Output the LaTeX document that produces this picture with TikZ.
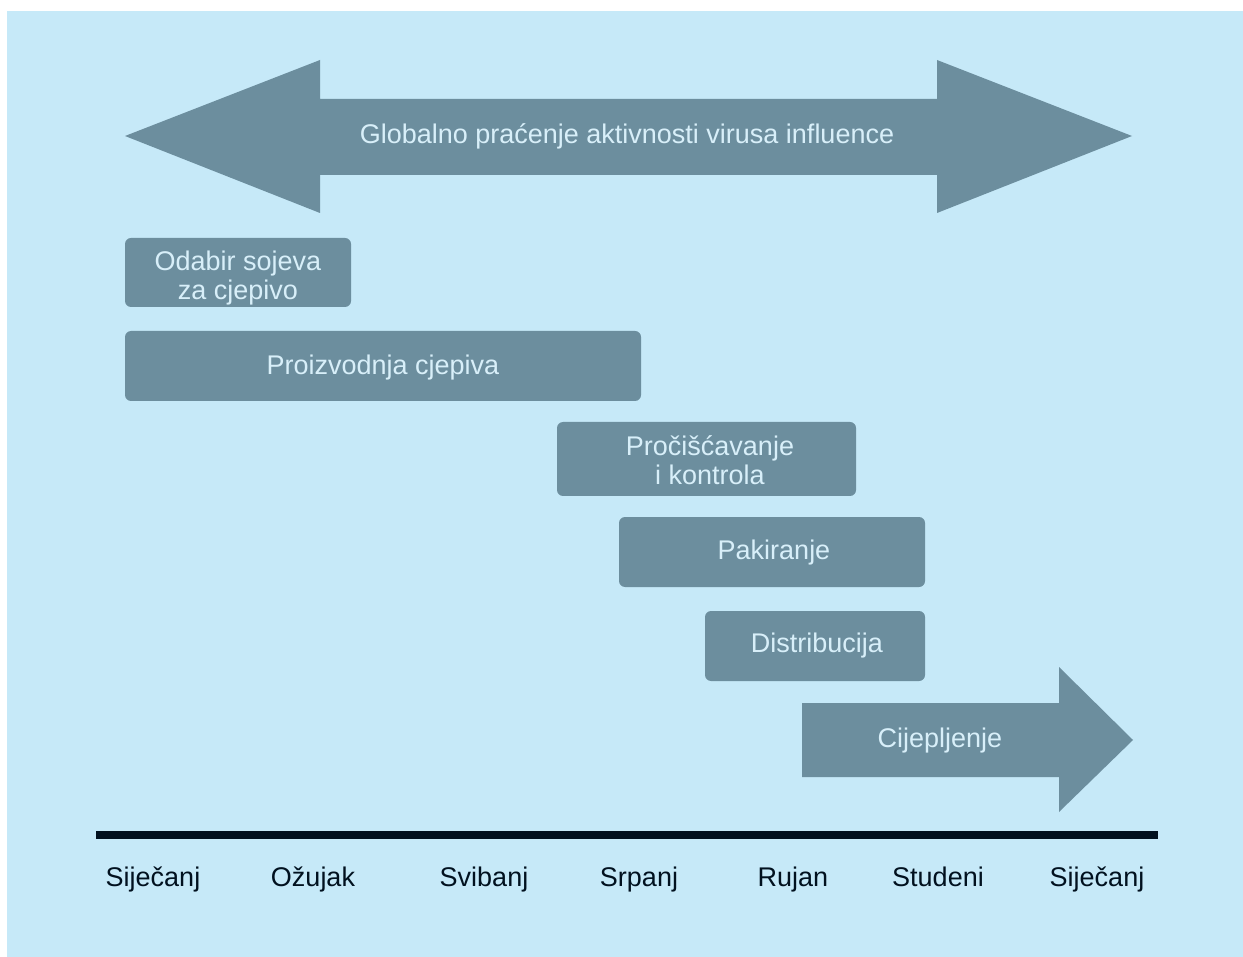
\documentclass[tikz,border=0pt]{standalone}
\usepackage{fontspec}
\setmainfont{Liberation Sans}
\definecolor{bg}{HTML}{C6E9F8}
\definecolor{shpcol}{HTML}{6C8E9E}
\definecolor{lite}{HTML}{D8EFF9}
\definecolor{dark}{HTML}{01111F}
\begin{document}
\begin{tikzpicture}[x=1pt,y=-1pt,
  bar/.style={fill=shpcol,rounded corners=6pt,draw=none},
  btext/.style={text=lite,font=\fontsize{27}{29}\selectfont,align=center},
  month/.style={text=dark,font=\fontsize{27}{29}\selectfont,anchor=base}]
\useasboundingbox (0,0) rectangle (1243,957);
\fill[white] (0,0) rectangle (1243,957);
\fill[bg] (7,11) rectangle (1243,957);
% double arrow
\fill[shpcol] (125,136) -- (320,60) -- (320,99) -- (937,99) -- (937,60) -- (1132,136)
  -- (937,213) -- (937,175) -- (320,175) -- (320,213) -- cycle;
\node[btext] (glob) at (627,136) {Globalno praćenje aktivnosti virusa influence};
% bars
\path[bar] (125,238) rectangle (351,307);
\node[btext] (odabir) at (238,278) {Odabir sojeva\\za cjepivo};
\path[bar] (125,331) rectangle (641,401);
\node[btext] (proiz) at (383,368) {Proizvodnja cjepiva};
\path[bar] (557,422) rectangle (856,496);
\node[btext] (proc) at (710,460) {Pročišćavanje\\i kontrola};
\path[bar] (619,517) rectangle (925,587);
\node[btext] (pak) at (774,553) {Pakiranje};
\path[bar] (705,611) rectangle (925,681);
\node[btext] (dist) at (817,646) {Distribucija};
% vaccination arrow
\fill[shpcol] (802,703) -- (1059,703) -- (1059,667) -- (1133,740) -- (1059,812) -- (1059,777) -- (802,777) -- cycle;
\node[btext] (cij) at (940,741) {Cijepljenje};
% timeline
\fill[dark] (96,831) rectangle (1158,839);
\node[month] (m1) at (153,886) {Siječanj};
\node[month] (m2) at (313,886) {Ožujak};
\node[month] (m3) at (484,886) {Svibanj};
\node[month] (m4) at (639,886) {Srpanj};
\node[month] (m5) at (793,886) {Rujan};
\node[month] (m6) at (938,886) {Studeni};
\node[month] (m7) at (1097,886) {Siječanj};
\end{tikzpicture}
\end{document}
